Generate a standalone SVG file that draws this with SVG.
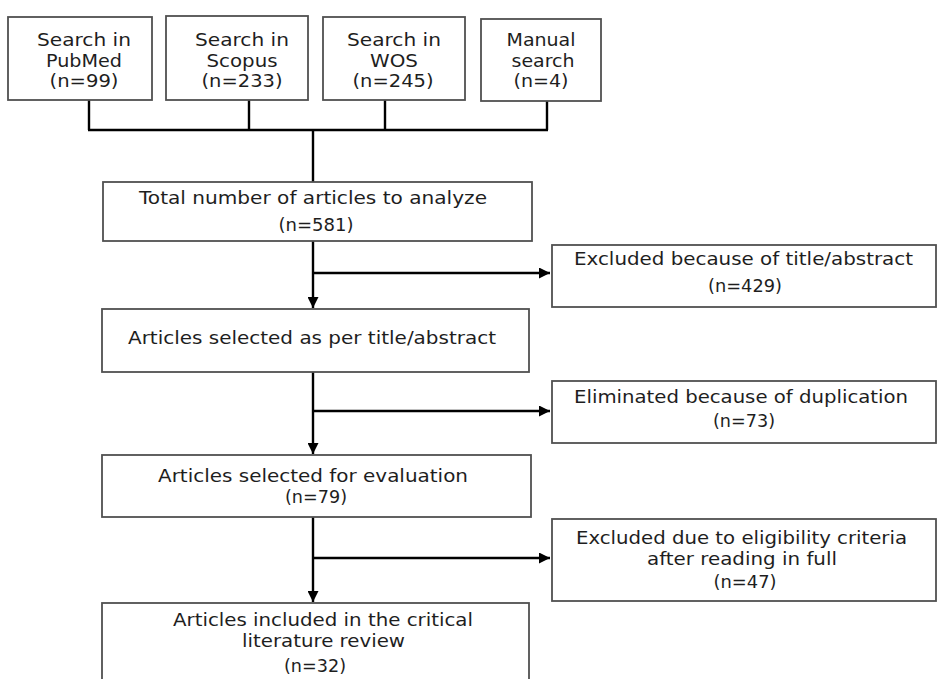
<svg xmlns="http://www.w3.org/2000/svg" width="939" height="679" viewBox="0 0 939 679">
<style>
.box{fill:#fff;stroke:#505050;stroke-width:1.8}
.t{font-family:"DejaVu Sans",Verdana,sans-serif;font-size:17px;fill:#1e1e1e;text-anchor:middle}
.c{fill:none;stroke:#000;stroke-width:2.4}
</style>
<defs>
<marker id="ah" viewBox="0 0 12 12" refX="12" refY="6" markerWidth="12" markerHeight="11" markerUnits="userSpaceOnUse" orient="auto">
<path d="M0,0 L12,6 L0,12 z" fill="#000"/>
</marker>
</defs>
<rect width="939" height="679" fill="#fff"/>
<g id="connectors">
<path class="c" d="M89,100 V130 M249,100 V130 M385,100 V130 M547,101 V130 M88,130 H548 M313,130 V182"/>
<path class="c" d="M313,241 V308" marker-end="url(#ah)"/>
<path class="c" d="M313,273 H550" marker-end="url(#ah)"/>
<path class="c" d="M313,372 V454" marker-end="url(#ah)"/>
<path class="c" d="M313,411 H550" marker-end="url(#ah)"/>
<path class="c" d="M313,517 V602" marker-end="url(#ah)"/>
<path class="c" d="M313,558 H550" marker-end="url(#ah)"/>
</g>
<g id="pubmed">
<rect class="box" x="8" y="17" width="144" height="83"/>
<text class="t" x="84" y="46" textLength="94" lengthAdjust="spacingAndGlyphs">Search in</text>
<text class="t" x="84" y="67" textLength="76" lengthAdjust="spacingAndGlyphs">PubMed</text>
<text class="t" x="84" y="87" textLength="69" lengthAdjust="spacingAndGlyphs">(n=99)</text>
</g>
<g id="scopus">
<rect class="box" x="166" y="16" width="142" height="84"/>
<text class="t" x="242" y="46" textLength="94" lengthAdjust="spacingAndGlyphs">Search in</text>
<text class="t" x="242" y="67" textLength="71" lengthAdjust="spacingAndGlyphs">Scopus</text>
<text class="t" x="242" y="87" textLength="81" lengthAdjust="spacingAndGlyphs">(n=233)</text>
</g>
<g id="wos">
<rect class="box" x="323" y="17" width="142" height="83"/>
<text class="t" x="394" y="46" textLength="94" lengthAdjust="spacingAndGlyphs">Search in</text>
<text class="t" x="394" y="67" textLength="48" lengthAdjust="spacingAndGlyphs">WOS</text>
<text class="t" x="393" y="87" textLength="81" lengthAdjust="spacingAndGlyphs">(n=245)</text>
</g>
<g id="manual">
<rect class="box" x="481" y="19" width="120" height="82"/>
<text class="t" x="541" y="46" textLength="69" lengthAdjust="spacingAndGlyphs">Manual</text>
<text class="t" x="543" y="67" textLength="63" lengthAdjust="spacingAndGlyphs">search</text>
<text class="t" x="541" y="87" textLength="55" lengthAdjust="spacingAndGlyphs">(n=4)</text>
</g>
<g id="total">
<rect class="box" x="103" y="182" width="429" height="59"/>
<text class="t" x="313" y="204" textLength="348" lengthAdjust="spacingAndGlyphs">Total number of articles to analyze</text>
<text class="t" x="316" y="231" textLength="75" lengthAdjust="spacingAndGlyphs">(n=581)</text>
</g>
<g id="excluded1">
<rect class="box" x="552" y="245" width="384" height="62"/>
<text class="t" x="743.5" y="265" textLength="339" lengthAdjust="spacingAndGlyphs">Excluded because of title/abstract</text>
<text class="t" x="745" y="292" textLength="74" lengthAdjust="spacingAndGlyphs">(n=429)</text>
</g>
<g id="selected1">
<rect class="box" x="102" y="309" width="427" height="63"/>
<text class="t" x="312" y="344" textLength="368" lengthAdjust="spacingAndGlyphs">Articles selected as per title/abstract</text>
</g>
<g id="eliminated">
<rect class="box" x="552" y="381" width="384" height="62"/>
<text class="t" x="741" y="403" textLength="334" lengthAdjust="spacingAndGlyphs">Eliminated because of duplication</text>
<text class="t" x="744" y="427" textLength="62" lengthAdjust="spacingAndGlyphs">(n=73)</text>
</g>
<g id="selected2">
<rect class="box" x="102" y="455" width="429" height="62"/>
<text class="t" x="313" y="482" textLength="310" lengthAdjust="spacingAndGlyphs">Articles selected for evaluation</text>
<text class="t" x="316" y="503" textLength="62" lengthAdjust="spacingAndGlyphs">(n=79)</text>
</g>
<g id="excluded2">
<rect class="box" x="552" y="519" width="384" height="82"/>
<text class="t" x="741.5" y="544" textLength="331" lengthAdjust="spacingAndGlyphs">Excluded due to eligibility criteria</text>
<text class="t" x="742" y="565" textLength="190" lengthAdjust="spacingAndGlyphs">after reading in full</text>
<text class="t" x="745" y="588" textLength="63" lengthAdjust="spacingAndGlyphs">(n=47)</text>
</g>
<g id="included">
<rect class="box" x="102" y="603" width="427" height="90"/>
<text class="t" x="323" y="626" textLength="300" lengthAdjust="spacingAndGlyphs">Articles included in the critical</text>
<text class="t" x="323.5" y="647" textLength="163" lengthAdjust="spacingAndGlyphs">literature review</text>
<text class="t" x="315" y="672" textLength="62" lengthAdjust="spacingAndGlyphs">(n=32)</text>
</g>
</svg>
